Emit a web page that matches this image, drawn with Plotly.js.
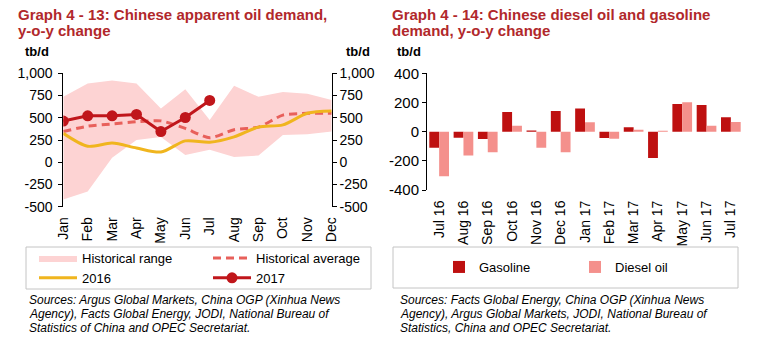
<!DOCTYPE html>
<html>
<head>
<meta charset="utf-8">
<script src="https://cdn.plot.ly/plotly-3.0.1.min.js"></script>
<style>
html,body{margin:0;padding:0;background:#fff;}
#chart{width:757px;height:337px;}
</style>
</head>
<body>
<div id="chart"></div>
<script>
// ---- Data: Graph 4-13 ----
const months = ["Jan","Feb","Mar","Apr","May","Jun","Jul","Aug","Sep","Oct","Nov","Dec"];
const rangeLow  = [-420,-330,50,250,285,80,140,60,75,305,315,345];
const rangeHigh = [735,885,920,885,605,820,475,860,735,790,770,700];
const histAvg   = [345,405,430,455,465,380,275,365,395,530,550,550];
const y2016     = [325,180,215,160,115,240,225,285,395,420,550,575];
const y2017     = [463,522,522,537,345,503,695];
const leftTickVals = [-500,-250,0,250,500,750,1000];
const leftTickText = ["-500","-250","0","250","500","750","1,000"];

// ---- Data: Graph 4-14 ----
const periods  = ["Jul 16","Aug 16","Sep 16","Oct 16","Nov 16","Dec 16","Jan 17","Feb 17","Mar 17","Apr 17","May 17","Jun 17","Jul 17"];
const gasoline = [-110,-42,-50,134,8,141,159,-43,30,-180,189,182,98];
const diesel   = [-305,-164,-141,40,-111,-141,64,-48,13,6,202,40,66];
const rightTickVals = [-400,-200,0,200,400];
const rightTickText = ["-400","-200","0","200","400"];

const W = 757, H = 337;
const px = v => v / W;
const py = v => 1 - v / H;

const FONT = "Liberation Sans, Arial, sans-serif";
const RED = "#B1282B";

const traces = [
  {x: months, y: rangeLow, type: "scatter", mode: "lines", line: {width: 0, color: "rgba(0,0,0,0)"},
   showlegend: false, hoverinfo: "skip", xaxis: "x", yaxis: "y"},
  {x: months, y: rangeHigh, type: "scatter", mode: "lines", fill: "tonexty", fillcolor: "#FDD3D3",
   line: {width: 0, color: "#FDD3D3"}, name: "Historical range", legend: "legend", xaxis: "x", yaxis: "y"},
  {x: months, y: histAvg, type: "scatter", mode: "lines", name: "Historical average", legend: "legend2",
   line: {color: "#E8605B", width: 3, dash: "8px,5px", shape: "spline", smoothing: 0.6}, xaxis: "x", yaxis: "y"},
  {x: months, y: y2016, type: "scatter", mode: "lines", name: "2016", legend: "legend",
   line: {color: "#F0B51E", width: 3, shape: "spline", smoothing: 0.8}, xaxis: "x", yaxis: "y2"},
  {x: months.slice(0, y2017.length), y: y2017, type: "scatter", mode: "lines+markers", name: "2017", legend: "legend2",
   line: {color: "#C0161B", width: 3}, marker: {color: "#C0161B", size: 11}, xaxis: "x", yaxis: "y2"},
  {x: periods, y: gasoline, type: "bar", name: "Gasoline", legend: "legend3",
   marker: {color: "#BE1010"}, xaxis: "x2", yaxis: "y3"},
  {x: periods, y: diesel, type: "bar", name: "Diesel oil", legend: "legend4",
   marker: {color: "#F4908C"}, xaxis: "x2", yaxis: "y3"}
];

const L = {x0: 63.3, x1: 331.7, yTop: 73.3, yBot: 206.7};
const R = {x0: 427, x1: 743, yTop: 73.3, yBot: 190};
const lyDom = [py(L.yBot), py(L.yTop)];
const ryDom = [py(R.yBot), py(R.yTop)];
const lZero = lyDom[0] + (lyDom[1] - lyDom[0]) * (500 / 1500);
const rZero = ryDom[0] + (ryDom[1] - ryDom[0]) * 0.5;

const tickFont = {family: FONT, size: 14, color: "#000"};
const legFont = {family: FONT, size: 13, color: "#000"};
const legBase = {xanchor: "left", yanchor: "top", orientation: "v", bgcolor: "rgba(0,0,0,0)",
                 borderwidth: 0, font: legFont, traceorder: "normal", tracegroupgap: 0};

const layout = {
  width: W, height: H,
  margin: {l: 0, r: 0, t: 0, b: 0},
  paper_bgcolor: "#fff", plot_bgcolor: "rgba(0,0,0,0)",
  font: {family: FONT, color: "#000"},
  showlegend: true,
  barmode: "group", bargap: 0.19, bargroupgap: 0,
  xaxis: {domain: [px(L.x0), px(L.x1)], anchor: "y", type: "category", range: [0, 11],
          showline: false, showgrid: false, zeroline: false, ticks: "outside", ticklen: 4,
          tickcolor: "rgba(0,0,0,0)", tickangle: -90, tickfont: tickFont},
  xaxis3: {domain: [px(L.x0), px(L.x1)], overlaying: "x", anchor: "free", position: lZero,
           type: "linear", range: [0, 11], tick0: 0, dtick: 1, showline: true, linecolor: "#000", linewidth: 1,
           ticks: "outside", ticklen: 4, tickcolor: "#000", showticklabels: false, showgrid: false, zeroline: false},
  yaxis: {domain: lyDom, anchor: "x", range: [-500, 1000], tickvals: leftTickVals, ticktext: leftTickText,
          showline: true, linecolor: "#000", linewidth: 1, ticks: "outside", ticklen: 4, tickcolor: "#000",
          ticklabelstandoff: 3, showgrid: false, zeroline: false, tickfont: tickFont},
  yaxis2: {domain: lyDom, overlaying: "y", anchor: "x", side: "right", range: [-500, 1000],
           tickvals: leftTickVals, ticktext: leftTickText,
           showline: true, linecolor: "#000", linewidth: 1, ticks: "outside", ticklen: 4, tickcolor: "#000",
           showgrid: false, zeroline: false, tickfont: tickFont},
  xaxis2: {domain: [px(R.x0), px(R.x1)], anchor: "y3", type: "category",
           showline: false, showgrid: false, zeroline: false, ticks: "outside", ticklen: 4,
           tickcolor: "rgba(0,0,0,0)", tickangle: -90, tickfont: tickFont},
  xaxis4: {domain: [px(R.x0), px(R.x1)], overlaying: "x2", anchor: "free", position: rZero,
           type: "linear", range: [-0.5, 12.5], tick0: 0.5, dtick: 1, showline: true, linecolor: "#000", linewidth: 1,
           ticks: "outside", ticklen: 4, tickcolor: "#000", showticklabels: false, showgrid: false, zeroline: false},
  yaxis3: {domain: ryDom, anchor: "x2", range: [-400, 400], tickvals: rightTickVals, ticktext: rightTickText,
           showline: true, linecolor: "#000", linewidth: 1, ticks: "outside", ticklen: 4, tickcolor: "#000",
           showgrid: false, zeroline: false, tickfont: {family: FONT, size: 15, color: "#000"}},
  legend:  Object.assign({x: px(34), y: py(243), itemwidth: 38}, legBase),
  legend2: Object.assign({x: px(208), y: py(243), itemwidth: 38}, legBase),
  legend3: Object.assign({x: px(439), y: py(252)}, legBase),
  legend4: Object.assign({x: px(575), y: py(252)}, legBase),
  shapes: [
    {type: "rect", xref: "paper", yref: "paper", x0: px(26), x1: px(371), y0: py(289), y1: py(247),
     line: {color: "#C4C4C4", width: 1}},
    {type: "rect", xref: "paper", yref: "paper", x0: px(393), x1: px(738), y0: py(288), y1: py(247),
     line: {color: "#C4C4C4", width: 1}}
  ],
  annotations: [
    {text: "<b>Graph 4 - 13: Chinese apparent oil demand,</b>", x: px(16), y: py(15)},
    {text: "<b>y-o-y change</b>", x: px(16), y: py(31)},
    {text: "<b>Graph 4 - 14: Chinese diesel oil and gasoline</b>", x: px(390), y: py(15)},
    {text: "<b>demand, y-o-y change</b>", x: px(390), y: py(31)}
  ].map(a => Object.assign(a, {xref: "paper", yref: "paper", xanchor: "left", yanchor: "middle",
        showarrow: false, font: {family: FONT, size: 15, color: RED}})).concat([
    {text: "<b>tb/d</b>", x: px(23), y: py(51.5)},
    {text: "<b>tb/d</b>", x: px(344), y: py(51.5)},
    {text: "<b>tb/d</b>", x: px(395), y: py(51.5)}
  ].map(a => Object.assign(a, {xref: "paper", yref: "paper", xanchor: "left", yanchor: "middle",
        showarrow: false, font: {family: FONT, size: 13, color: "#000"}}))).concat([
    {text: "<i>Sources: Argus Global Markets, China OGP (Xinhua News</i>", x: px(27), y: py(300)},
    {text: "<i>Agency), Facts Global Energy, JODI, National Bureau of</i>", x: px(27), y: py(314)},
    {text: "<i>Statistics of China and OPEC Secretariat.</i>", x: px(27), y: py(327.5)},
    {text: "<i>Sources: Facts Global Energy, China OGP (Xinhua News</i>", x: px(398), y: py(300)},
    {text: "<i>Agency), Argus Global Markets, JODI, National Bureau of</i>", x: px(398), y: py(314)},
    {text: "<i>Statistics, China and OPEC Secretariat.</i>", x: px(398), y: py(327.5)}
  ].map(a => Object.assign(a, {xref: "paper", yref: "paper", xanchor: "left", yanchor: "middle",
        showarrow: false, font: {family: FONT, size: 12, color: "#000"}})))
};

Plotly.newPlot("chart", traces, layout, {displayModeBar: false, staticPlot: true});
</script>
</body>
</html>
